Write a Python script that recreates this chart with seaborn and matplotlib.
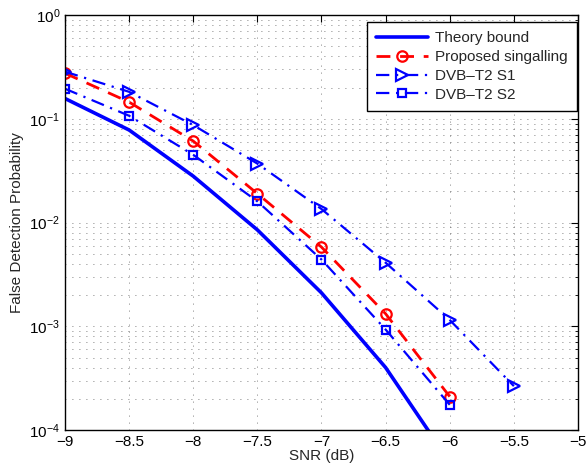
import matplotlib
matplotlib.use("Agg")
import matplotlib.pyplot as plt
import seaborn as sns
import pandas as pd
from matplotlib.ticker import LogLocator, FixedLocator, NullFormatter

snr = [-9, -8.5, -8, -7.5, -7, -6.5, -6]
snr_s1 = [-9, -8.5, -8, -7.5, -7, -6.5, -6, -5.5]
theory = [0.157, 0.078, 0.028, 0.0085, 0.0021, 0.00040, 0.000049]
proposed = [0.275, 0.145, 0.061, 0.019, 0.0058, 0.00132, 0.00021]
s1 = [0.285, 0.182, 0.087, 0.037, 0.0135, 0.0041, 0.00115, 0.000265]
s2 = [0.195, 0.107, 0.045, 0.0160, 0.0044, 0.00093, 0.000175]
xticks = [-9, -8.5, -8, -7.5, -7, -6.5, -6, -5.5, -5]

sns.set_style("white")
plt.rcParams['font.family'] = ['Liberation Sans', 'DejaVu Sans']
plt.rcParams['axes.unicode_minus'] = True

fig = plt.figure(figsize=(5.88, 4.71), dpi=100)
ax = fig.add_axes([0.1105, 0.087, 0.8725, 0.881])

blue = '#0000ff'
red = '#ff0000'
fs = 11

df_t = pd.DataFrame({'x': snr, 'y': theory})
df_p = pd.DataFrame({'x': snr, 'y': proposed})
df_1 = pd.DataFrame({'x': snr_s1, 'y': s1})
df_2 = pd.DataFrame({'x': snr, 'y': s2})

sns.lineplot(data=df_t, x='x', y='y', ax=ax, color=blue, lw=2.6, label='Theory bound')
sns.lineplot(data=df_p, x='x', y='y', ax=ax, color=red, lw=2.0, marker='o', ms=7.5,
             mfc='none', mec=red, mew=1.6, label='Proposed singalling')
ax.lines[-1].set_dashes([5, 3.5])
sns.lineplot(data=df_1, x='x', y='y', ax=ax, color=blue, lw=1.6, marker='>', ms=8.5,
             mfc='none', mec=blue, mew=1.6, label='DVB\u2013T2 S1')
ax.lines[-1].set_dashes([6, 3, 1, 3])
sns.lineplot(data=df_2, x='x', y='y', ax=ax, color=blue, lw=1.6, marker='s', ms=6,
             mfc='none', mec=blue, mew=1.6, label='DVB\u2013T2 S2')
ax.lines[-1].set_dashes([6, 3, 1, 3])

ax.set_yscale('log')
ax.set_xlim(-9, -5)
ax.set_ylim(1e-4, 1)
ax.xaxis.set_major_locator(FixedLocator(xticks))
ax.set_xticklabels([f"{t:g}".replace('-', '\u2212') for t in xticks])
ax.yaxis.set_major_locator(LogLocator(base=10, numticks=10))
ax.yaxis.set_minor_locator(LogLocator(base=10, subs=range(2, 10), numticks=20))
ax.yaxis.set_minor_formatter(NullFormatter())

gstyle = dict(color='#555555', ls=(0, (1, 7.4)), lw=0.6)
ax.grid(True, which='major', axis='both', **gstyle)
ax.grid(True, which='minor', axis='y', **gstyle)
ax.tick_params(which='both', direction='in', top=True, right=True, labelsize=fs, colors='black')
ax.tick_params(which='major', length=5)
ax.tick_params(which='minor', length=2.5)
for s in ax.spines.values():
    s.set_color('black')
    s.set_linewidth(1.0)

ax.set_xlabel('SNR (dB)', fontsize=fs, labelpad=0)
ax.set_ylabel('False Detection Probability', fontsize=fs, labelpad=4)

leg = ax.legend(loc='upper right', bbox_to_anchor=(577 / 588, 1 - 22 / 471),
                bbox_transform=fig.transFigure, borderaxespad=0,
                fontsize=fs, frameon=True, fancybox=False,
                edgecolor='black', framealpha=1, handlelength=3.4, handletextpad=0.45,
                labelspacing=0.32, borderpad=0.6)
leg.get_frame().set_linewidth(1.0)

fig.savefig('out.png', dpi=100)
